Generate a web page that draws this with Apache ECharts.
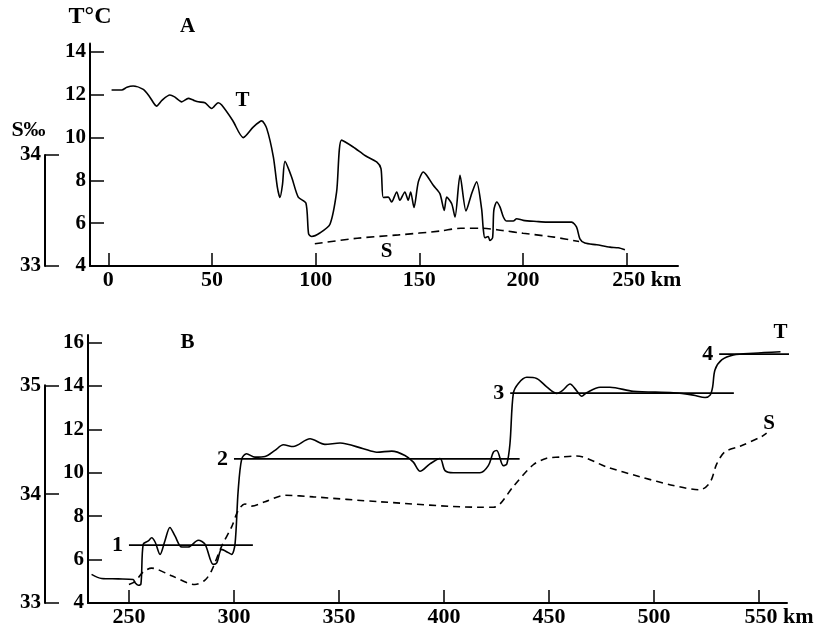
<!DOCTYPE html>
<html><head><meta charset="utf-8">
<script src="https://cdn.jsdelivr.net/npm/echarts@6/dist/echarts.min.js"></script>
<style>html,body{margin:0;padding:0;background:#fff}#c{width:822px;height:630px}</style>
</head><body><div id="c"></div>
<script>
// ---------- DATA ----------
// Panel A: distance (km), temperature (°C)
const topT = [[1.6,12.22],[6.5,12.22],[9,12.35],[12,12.41],[16.9,12.25],[20,11.9],[23.3,11.47],[26,11.75],[29.7,11.99],[32,11.9],[35.4,11.67],[38.6,11.83],[41,11.75],[43.4,11.67],[46.6,11.63],[49.9,11.36],[53,11.63],[54.7,11.52],[60,10.8],[65.1,10.0],[70,10.5],[74,10.78],[76.4,10.43],[79.6,9.1],[81.5,7.7],[82.8,7.2],[84,7.8],[85.2,8.89],[88.4,8.16],[91.6,7.22],[95.3,6.94],[96.6,5.5],[98.1,5.38],[102,5.54],[106.9,5.95],[110.1,7.46],[112.5,9.88],[118.1,9.56],[124,9.15],[129.4,8.86],[131.5,8.55],[132.6,7.2],[135,7.22],[136.6,6.99],[139.1,7.46],[140.6,7.07],[143,7.46],[144.6,7.07],[145.8,7.46],[147.4,6.73],[149.5,7.93],[151.9,8.39],[153.5,8.24],[156.7,7.77],[159.9,7.38],[162,6.6],[163.2,7.22],[165.6,6.91],[167.2,6.29],[169.6,8.24],[172.5,6.57],[175.2,7.38],[177.6,7.93],[180,6.68],[180.8,5.74],[181.6,5.32],[183.2,5.38],[184,5.19],[185.3,5.32],[185.9,6.6],[187.3,6.99],[188.9,6.75],[190.5,6.29],[192.1,6.1],[195.3,6.1],[196.9,6.21],[200.1,6.13],[206.5,6.08],[211.4,6.05],[217.8,6.05],[223.4,6.05],[225.8,5.82],[227.4,5.27],[229.8,5.07],[235.5,4.99],[241.9,4.88],[245.9,4.85],[249.1,4.76]];
// Panel A: distance (km), salinity (‰)
const topS = [[99.6,33.2],[120,33.25],[140,33.28],[160,33.315],[170,33.34],[180,33.34],[190,33.32],[200,33.295],[215,33.26],[227,33.22]];
// Panel B: distance (km), temperature (°C)
const botT = [[232.2,5.32],[237,5.13],[244.9,5.11],[252,5.08],[252.9,4.93],[254.4,4.82],[255.7,4.88],[256.8,6.71],[259.2,6.86],[260.8,7.01],[262.5,6.8],[264.8,6.24],[267.1,6.86],[269.5,7.48],[271.9,7.09],[275.1,6.58],[278.2,6.58],[283,6.89],[286.2,6.71],[290.1,5.78],[291.8,5.85],[294.1,6.47],[297.3,6.32],[298.9,6.24],[300.5,6.71],[302,9.18],[303.7,10.64],[306,10.88],[310,10.72],[314.8,10.75],[319.5,11.03],[323.5,11.29],[328.2,11.21],[336.2,11.57],[343.3,11.31],[350.5,11.37],[361.6,11.11],[368,10.95],[375.1,11.0],[381.4,10.8],[385.4,10.49],[388.6,10.07],[393.3,10.41],[398.1,10.66],[400.5,10.1],[404.4,10.0],[417.1,10.0],[421.1,10.33],[423.5,10.95],[425.1,11.03],[428.2,10.33],[429.9,10.41],[431.4,11.34],[433,13.66],[435.4,14.12],[439.4,14.4],[444.1,14.35],[448.9,13.96],[453.7,13.66],[456.5,13.8],[460,14.09],[463,13.8],[465.6,13.53],[467.9,13.69],[474.3,13.94],[479,13.94],[490.1,13.76],[509.2,13.69],[518.7,13.58],[524.3,13.47],[526.7,13.58],[527.9,13.96],[529,14.74],[532.2,15.2],[537.8,15.43],[547.3,15.51],[560.2,15.58]];
// Panel B: distance (km), salinity (‰)
const botS = [[250,33.17],[253,33.2],[256.8,33.285],[260.8,33.32],[270.3,33.25],[281.4,33.17],[286.2,33.21],[289.4,33.3],[294.1,33.52],[298.9,33.7],[302,33.85],[305.2,33.91],[308.4,33.89],[314.8,33.93],[324.3,33.99],[337.8,33.975],[369.5,33.93],[417.1,33.88],[423.5,33.88],[426.7,33.91],[433,34.07],[442.5,34.27],[448.9,34.33],[455,34.34],[463.2,34.35],[477.5,34.25],[493.3,34.16],[509.2,34.08],[521.9,34.04],[526.7,34.11],[529.9,34.28],[533.8,34.39],[541,34.44],[551.3,34.53],[553.6,34.56]];
// Panel B: isothermal layers
const layerNames = ['1','2','3','4'];
const layerTemps = [6.67, 10.64, 13.67, 15.47];
const layerStart = [250, 300, 431.5, 531];
const layerEnd = [309, 436, 538, 570];
// Tick labels
const topXTicks = [0,50,100,150,200,250];
const botXTicks = [250,300,350,400,450,500,550];
const topTTicks = [4,6,8,10,12,14];
const botTTicks = [4,6,8,10,12,14,16];
const topSTicks = [33,34];
const botSTicks = [33,34,35];
const unitKm = 'km';

// ---------- CHART ----------
const FONT = '"Liberation Serif","Times New Roman",serif';
const chart = echarts.init(document.getElementById('c'), null, {renderer:'canvas'});
const black = '#000';

function xAxisCfg(gridIndex, min, max, ticks) {
  const last = ticks[ticks.length-1];
  return {
    type:'value', gridIndex, min, max,
    axisLine:{show:true, onZero:false, lineStyle:{color:black, width:2}},
    axisTick:{show:true, inside:true, length:13, customValues:ticks, lineStyle:{color:black, width:1.5}},
    axisLabel:{show:true, customValues:ticks, margin:3, color:black, fontFamily:FONT, fontWeight:'bold', fontSize:22,
      formatter: v => v === last ? '{k|' + v + ' ' + unitKm + '}' : String(v),
      rich:{k:{padding:[0,0,0,40], color:black, fontFamily:FONT, fontWeight:'bold', fontSize:22}}},
    splitLine:{show:false}
  };
}
function yAxisCfg(gridIndex, min, max, ticks, offset, fs) {
  return {
    type:'value', gridIndex, min, max, offset: offset || 0, position:'left',
    axisLine:{show:true, onZero:false, lineStyle:{color:black, width:2}},
    axisTick:{show:true, inside:true, length:14, customValues:ticks, lineStyle:{color:black, width:1.5}},
    axisLabel:{show:true, customValues:ticks, margin:4, color:black, fontFamily:FONT, fontWeight:'bold', fontSize:fs || 21},
    splitLine:{show:false}
  };
}
function hiddenX(gridIndex, min, max) {
  return {type:'value', gridIndex, min, max, show:false, axisLine:{onZero:false}, splitLine:{show:false}};
}

const gridBase = {containLabel:false, outerBoundsMode:'none', show:false};

const series = [
  {type:'line', name:'T A', xAxisIndex:0, yAxisIndex:0, data:topT, smooth:0.25, symbol:'none',
   lineStyle:{color:black, width:1.6}, animation:false},
  {type:'line', name:'S A', xAxisIndex:1, yAxisIndex:1, data:topS, smooth:0.3, symbol:'none', clip:false,
   lineStyle:{color:black, width:1.6, type:[8,5]}, animation:false},
  {type:'line', name:'T B', xAxisIndex:2, yAxisIndex:2, data:botT, smooth:0.3, symbol:'none',
   lineStyle:{color:black, width:1.6}, animation:false},
  {type:'line', name:'S B', xAxisIndex:3, yAxisIndex:3, data:botS, smooth:0.3, symbol:'none', clip:false,
   lineStyle:{color:black, width:1.6, type:[7,5]}, animation:false}
];
layerNames.forEach((n, i) => {
  series.push({type:'line', name:'layer ' + n, xAxisIndex:2, yAxisIndex:2, clip:false, symbol:'none',
    data:[[layerStart[i], layerTemps[i]], [layerEnd[i], layerTemps[i]]],
    lineStyle:{color:black, width:1.8}, animation:false});
});
series.push({type:'scatter', name:'layer labels', xAxisIndex:2, yAxisIndex:2, clip:false,
  data: layerNames.map((n, i) => [layerStart[i], layerTemps[i]]),
  symbolSize:0, itemStyle:{color:black, opacity:1}, animation:false, silent:true,
  emphasis:{disabled:true},
  label:{show:true, position:'left', distance:6, color:black, opacity:1, fontFamily:FONT, fontWeight:'bold', fontSize:22,
    formatter: p => layerNames[p.dataIndex]}});

function txt(text, x, y, size) {
  return {type:'text', x, y, silent:true,
    style:{text, fill:black, font:'bold ' + size + 'px ' + FONT, align:'center', verticalAlign:'middle'}};
}

chart.setOption({
  backgroundColor:'#fff',
  animation:false,
  grid:[
    Object.assign({left:90, right:144, top:43.4, bottom:364}, gridBase),
    Object.assign({left:90, right:144, top:155, bottom:364}, gridBase),
    Object.assign({left:88, right:35, top:335, bottom:27}, gridBase),
    Object.assign({left:88, right:35, top:385.3, bottom:27}, gridBase)
  ],
  xAxis:[
    xAxisCfg(0, -8.8, 274.7, topXTicks),
    hiddenX(1, -8.8, 274.7),
    xAxisCfg(2, 230.5, 563.3, botXTicks),
    hiddenX(3, 230.5, 563.3)
  ],
  yAxis:[
    yAxisCfg(0, 4, 14.4, topTTicks, 0, 21),
    yAxisCfg(1, 33, 34, topSTicks, 45, 21),
    yAxisCfg(2, 4, 16.35, botTTicks, 0, 21),
    yAxisCfg(3, 33, 35, botSTicks, 43, 21)
  ],
  series,
  graphic:[
    txt('T°C', 90, 16.5, 24),
    txt('A', 187.5, 26.5, 21),
    txt('S‰', 28.5, 130, 22),
    txt('T', 242.5, 100.5, 21),
    txt('S', 386.5, 251.5, 21),
    txt('B', 187.5, 342.5, 21),
    txt('T', 780.5, 332.5, 21),
    txt('S', 769, 423.5, 21)
  ]
});
</script></body></html>
